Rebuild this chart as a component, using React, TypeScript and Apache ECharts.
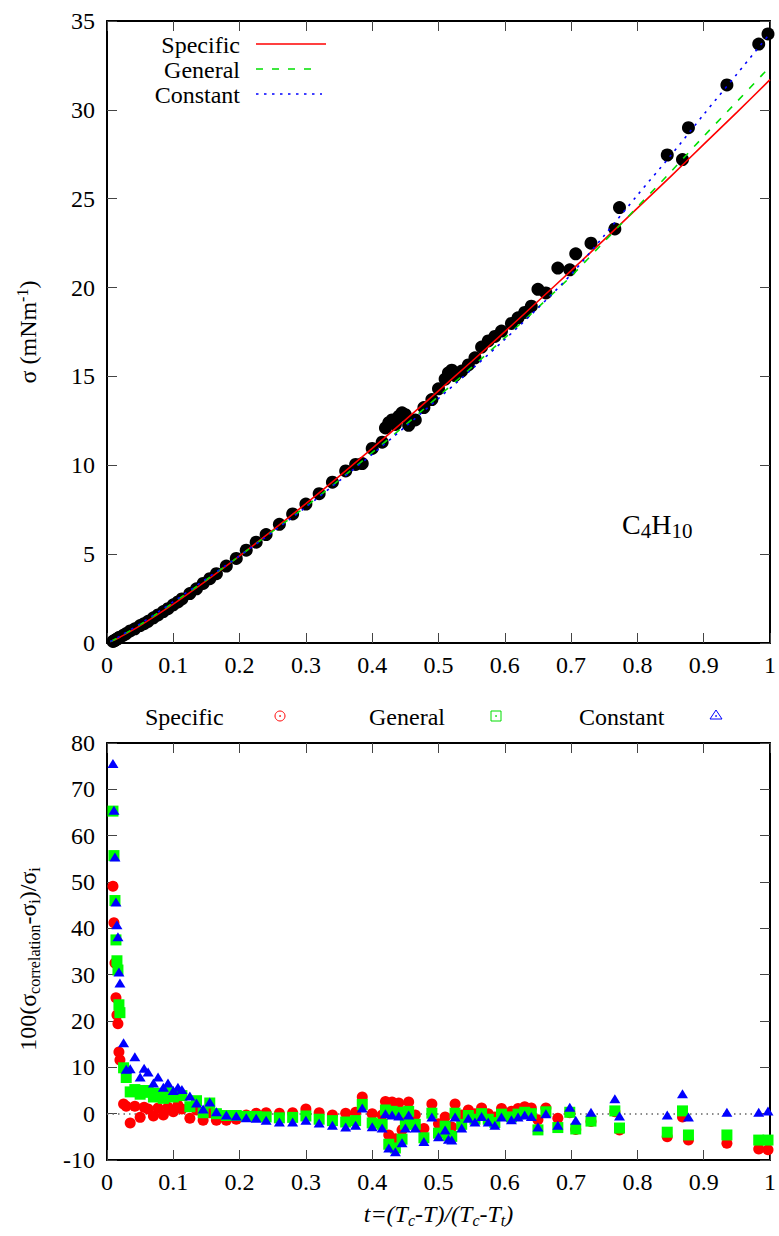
import React, { useEffect, useRef } from "react";
import * as echarts from "echarts";

const FONT = "Liberation Serif";

// Correlation curves
const CURVE_T = [0.005, 0.01, 0.02, 0.05, 0.1, 0.15, 0.2, 0.25, 0.3, 0.35, 0.4, 0.45, 0.5, 0.55, 0.6, 0.65, 0.7, 0.75, 0.8, 0.85, 0.9, 0.95, 1.0];
const CURVE_SPECIFIC = [0.068, 0.152, 0.339, 0.98, 2.19, 3.51, 4.9, 6.35, 7.84, 9.38, 10.95, 12.55, 14.19, 15.84, 17.52, 19.23, 20.95, 22.7, 24.47, 26.24, 28.06, 29.86, 31.7];
const CURVE_GENERAL = [0.076, 0.169, 0.37, 1.03, 2.27, 3.56, 4.9, 6.29, 7.68, 9.17, 10.71, 12.27, 13.88, 15.51, 17.17, 18.88, 20.64, 22.59, 24.54, 26.5, 28.51, 30.46, 32.43];
const CURVE_CONSTANT = [0.082, 0.179, 0.397, 1.08, 2.32, 3.62, 4.9, 6.25, 7.64, 9.12, 10.62, 12.17, 13.76, 15.4, 17.08, 18.85, 20.74, 22.93, 25.2, 27.42, 29.74, 32.01, 34.3];

// Experimental points: reduced temperature t and surface tension sigma (mN/m)
const DATA_T = [
  0.009, 0.0105, 0.012, 0.0135, 0.015, 0.0165, 0.018, 0.0195, 0.025, 0.029,
  0.035, 0.042, 0.05, 0.056, 0.062, 0.07, 0.077, 0.085, 0.092, 0.1,
  0.107, 0.113, 0.125, 0.135, 0.145, 0.155, 0.165, 0.18, 0.195, 0.21,
  0.225, 0.24, 0.26, 0.28, 0.3, 0.32, 0.34, 0.36, 0.375, 0.385,
  0.4, 0.415, 0.42, 0.425, 0.43, 0.435, 0.44, 0.445, 0.45, 0.455,
  0.465, 0.478, 0.49, 0.5, 0.51, 0.515, 0.52, 0.525, 0.535, 0.545,
  0.555, 0.565, 0.575, 0.585, 0.595, 0.61, 0.62, 0.63, 0.64, 0.65,
  0.662, 0.68, 0.698, 0.707, 0.73, 0.766, 0.773, 0.845, 0.868, 0.877,
  0.935, 0.983, 0.997,
];
const DATA_SIGMA = [
  0.09, 0.12, 0.15, 0.19, 0.22, 0.25, 0.3, 0.33, 0.44, 0.53,
  0.68, 0.8, 0.98, 1.09, 1.22, 1.42, 1.58, 1.77, 1.93, 2.15,
  2.31, 2.48, 2.78, 3.05, 3.35, 3.62, 3.9, 4.33, 4.76, 5.22,
  5.67, 6.1, 6.68, 7.26, 7.82, 8.4, 9.05, 9.68, 10.05, 10.1,
  10.95, 11.3, 12.1, 12.4, 12.55, 12.3, 12.75, 12.95, 12.85, 12.25,
  12.55, 13.25, 13.7, 14.3, 14.85, 15.2, 15.35, 15.05, 15.3, 15.65,
  16.05, 16.65, 17.0, 17.25, 17.55, 17.98, 18.3, 18.6, 18.95, 19.9,
  19.7, 21.1, 21.0, 21.9, 22.5, 23.3, 24.5, 27.46, 27.2, 29.0,
  31.4, 33.7, 34.27,
];

// Relative deviations 100(sigma_corr - sigma_i)/sigma_i
const DEV_SPECIFIC = [
  49.1, 41.2, 32.5, 25.0, 21.3, 19.4, 13.3, 11.6, 2.1, 1.6,
  -2.0, 1.6, -0.8, 1.4, 1.0, -0.5, 1.2, -0.3, 1.4, 0.4,
  1.8, 1.0, -1.0, 0.8, -1.4, 0.2, -1.4, -1.4, -1.2, -0.3,
  0.1, 0.2, 0.1, 0.2, 1.0, 0.2, -0.3, 0.1, 0.3, 3.6,
  0.0, -0.3, 2.6, -4.6, 2.5, -5.4, 2.3, -3.5, -0.3, 2.5,
  -0.3, -3.2, 2.1, -2.2, -0.7, -2.7, -2.9, 2.1, -0.3, 0.8,
  0.0, 1.2, 0.0, -0.7, 1.1, 0.5, 1.1, 1.5, 1.2, -1.3,
  1.2, -1.0, 0.2, -3.4, -1.7, 0.4, -3.5, -5.0, -0.7, -5.7,
  -6.4, -7.6, -7.8,
];
const DEV_GENERAL = [
  65.3, 55.7, 46.0, 37.5, 33.0, 31.0, 23.5, 21.8, 9.9, 7.8,
  4.7, 5.2, 4.2, 5.0, 4.6, 3.6, 4.4, 3.3, 4.6, 3.6,
  4.2, 3.9, 1.5, 2.8, 0.2, 2.3, 0.0, -0.4, -0.4, -0.6,
  -0.6, -0.7, -0.9, -0.8, -0.5, -1.2, -1.5, -1.8, -1.5, 2.0,
  -2.0, -2.3, 0.8, -6.6, 0.5, -7.4, 0.3, -5.5, -2.3, 0.5,
  -2.3, -5.2, 0.1, -4.2, -2.7, -4.7, -4.9, 0.1, -2.3, -0.4,
  -1.2, 0.0, -1.2, -1.9, -0.1, -0.7, -0.1, 0.3, 0.0, -3.5,
  0.4, -3.0, 0.3, -3.3, -1.6, 0.6, -3.1, -4.0, 0.6, -4.6,
  -4.6, -5.7, -5.7,
];
const DEV_CONSTANT = [
  75.6, 65.5, 55.4, 45.7, 40.8, 38.2, 30.6, 28.2, 15.3, 9.6,
  9.7, 12.3, 7.9, 9.8, 9.0, 6.6, 7.9, 5.7, 6.6, 5.0,
  5.7, 5.2, 3.8, 2.3, 1.0, 2.5, 0.4, -0.3, -0.5, -0.9,
  -1.0, -1.4, -1.8, -1.8, -1.4, -2.0, -2.5, -2.9, -2.5, 1.2,
  -2.8, -3.1, 0.0, -7.4, -0.3, -8.2, -0.5, -6.3, -3.1, -0.3,
  -3.1, -6.0, -0.7, -5.0, -3.5, -5.5, -5.7, -0.7, -3.1, -1.0,
  -1.8, -0.6, -1.8, -2.5, -0.7, -1.3, -0.7, -0.3, -0.6, -2.9,
  0.0, -2.5, 1.4, -1.4, 0.3, 3.2, -0.5, -0.3, 4.3, -0.7,
  0.3, 0.3, 0.6,
];

const SERIES_NAMES = ["Specific", "General", "Constant"];
const COLORS = { specific: "#ff0000", general: "#00e000", constant: "#0000ff" };

const pairs = (xs: number[], ys: number[]) => xs.map((x, i) => [x, ys[i]]);

export default function App() {
  const ref = useRef<HTMLDivElement>(null);

  useEffect(() => {
    if (!ref.current) return;
    const chart = echarts.init(ref.current, null, { renderer: "svg" });

    const axisLine = { show: true, onZero: false, lineStyle: { color: "#000", width: 2 } };
    const tick = { show: true, inside: true, length: 10, lineStyle: { color: "#444", width: 1 } };
    const numRich = { n: { fontFamily: FONT, fontSize: 24, color: "#000" } };
    const xLabel = {
      margin: 10,
      showMinLabel: true,
      showMaxLabel: true,
      formatter: (v: number) => `{n|${Number(v.toFixed(1))}}`,
      rich: numRich,
    };
    const yLabel = {
      margin: 12,
      showMinLabel: true,
      showMaxLabel: true,
      formatter: (v: number) => `{n|${Math.round(v)}}`,
      rich: numRich,
    };
    const rich = {
      a: { fontFamily: FONT, fontSize: 24, color: "#000" },
      i: { fontFamily: FONT, fontSize: 24, color: "#000", fontStyle: "italic" },
      sub: { fontFamily: FONT, fontSize: 16, color: "#000", padding: [12, 0, 0, 0] },
      isub: { fontFamily: FONT, fontSize: 16, color: "#000", fontStyle: "italic", padding: [12, 0, 0, 0] },
      sup: { fontFamily: FONT, fontSize: 16, color: "#000", padding: [0, 0, 12, 0] },
    };
    const gRich = {
      a: { fontFamily: FONT, fontSize: 24, fill: "#000" },
      sub: { fontFamily: FONT, fontSize: 16, fill: "#000", padding: [12, 0, 0, 0] },
    };

    const xBase = (grid: number) => ({
      gridIndex: grid,
      type: "value",
      min: 0,
      max: 1,
      interval: 0.1,
      axisLine,
      axisTick: tick,
      splitLine: { show: false },
    });

    const option: any = {
      animation: false,
      backgroundColor: "#fff",
      textStyle: { fontFamily: FONT },
      grid: [
        { left: 107, top: 21, width: 666, height: 622 },
        { left: 107, top: 743, width: 666, height: 417 },
      ],
      xAxis: [
        { ...xBase(0), position: "bottom", axisLabel: xLabel },
        { ...xBase(0), position: "top", axisLabel: { show: false } },
        {
          ...xBase(1),
          position: "bottom",
          axisLabel: xLabel,
          name: "{i|t=(T}{isub|c}{i|-T)/(T}{isub|c}{i|-T}{isub|t}{i|)}",
          nameLocation: "middle",
          nameGap: 40,
          nameTextStyle: { fontFamily: FONT, rich },
        },
        { ...xBase(1), position: "top", axisLabel: { show: false } },
      ],
      yAxis: [
        {
          gridIndex: 0,
          type: "value",
          min: 0,
          max: 35,
          interval: 5,
          position: "left",
          axisLine,
          axisTick: tick,
          splitLine: { show: false },
          axisLabel: yLabel,
          name: "{a|σ (mNm}{sup|-1}{a|)}",
          nameLocation: "middle",
          nameGap: 65,
          nameTextStyle: { fontFamily: FONT, rich },
        },
        {
          gridIndex: 0, type: "value", min: 0, max: 35, interval: 5, position: "right",
          axisLine, axisTick: tick, splitLine: { show: false }, axisLabel: { show: false },
        },
        {
          gridIndex: 1,
          type: "value",
          min: -10,
          max: 80,
          interval: 10,
          position: "left",
          axisLine,
          axisTick: tick,
          splitLine: { show: false },
          axisLabel: yLabel,
        },
        {
          gridIndex: 1, type: "value", min: -10, max: 80, interval: 10, position: "right",
          axisLine, axisTick: tick, splitLine: { show: false }, axisLabel: { show: false },
        },
      ],
      series: [
        {
          name: "Data",
          type: "scatter",
          xAxisIndex: 0,
          yAxisIndex: 0,
          symbol: "circle",
          symbolSize: 13,
          itemStyle: { color: "#000", opacity: 1 },
          data: pairs(DATA_T, DATA_SIGMA),
          z: 2,
        },
        {
          name: SERIES_NAMES[0],
          type: "line",
          xAxisIndex: 0,
          yAxisIndex: 0,
          showSymbol: false,
          smooth: 0.3,
          lineStyle: { color: COLORS.specific, width: 1.6 },
          data: pairs(CURVE_T, CURVE_SPECIFIC),
          z: 3,
        },
        {
          name: SERIES_NAMES[1],
          type: "line",
          xAxisIndex: 0,
          yAxisIndex: 0,
          showSymbol: false,
          smooth: 0.3,
          lineStyle: { color: COLORS.general, width: 1.6, type: [7, 9] },
          data: pairs(CURVE_T, CURVE_GENERAL),
          z: 4,
        },
        {
          name: SERIES_NAMES[2],
          type: "line",
          xAxisIndex: 0,
          yAxisIndex: 0,
          showSymbol: false,
          smooth: 0.3,
          lineStyle: { color: COLORS.constant, width: 1.6, type: [2.5, 5.5] },
          data: pairs(CURVE_T, CURVE_CONSTANT),
          z: 5,
        },
        {
          name: SERIES_NAMES[0] + " dev",
          type: "scatter",
          xAxisIndex: 2,
          yAxisIndex: 2,
          symbol: "circle",
          symbolSize: 11,
          itemStyle: { color: COLORS.specific, opacity: 1 },
          data: pairs(DATA_T, DEV_SPECIFIC),
          z: 3,
          markLine: {
            silent: true,
            symbol: "none",
            label: { show: false },
            lineStyle: { color: "#666", width: 1.5, type: [1.5, 4] },
            data: [{ yAxis: 0 }],
            z: 1,
          },
        },
        {
          name: SERIES_NAMES[1] + " dev",
          type: "scatter",
          xAxisIndex: 2,
          yAxisIndex: 2,
          symbol: "rect",
          symbolSize: 11,
          itemStyle: { color: "#00ff00", opacity: 1 },
          data: pairs(DATA_T, DEV_GENERAL),
          z: 4,
        },
        {
          name: SERIES_NAMES[2] + " dev",
          type: "scatter",
          xAxisIndex: 2,
          yAxisIndex: 2,
          symbol: "triangle",
          symbolSize: [11, 9],
          itemStyle: { color: COLORS.constant, opacity: 1 },
          data: pairs(DATA_T, DEV_CONSTANT),
          z: 5,
        },
      ],
      graphic: [
        // Bottom y-axis title
        {
          type: "text",
          x: 28,
          y: 959,
          rotation: Math.PI / 2,
          style: {
            text: "{a|100(σ}{sub|correlation}{a|-σ}{sub|i}{a|)/σ}{sub|i}",
            rich: gRich,
            textAlign: "center",
            textVerticalAlign: "middle",
            fill: "#000",
          },
        },
        // Top legend
        { type: "text", x: 240, y: 45, style: { text: SERIES_NAMES[0], font: `24px ${FONT}`, textAlign: "right", textVerticalAlign: "middle", fill: "#000" } },
        { type: "text", x: 240, y: 70, style: { text: SERIES_NAMES[1], font: `24px ${FONT}`, textAlign: "right", textVerticalAlign: "middle", fill: "#000" } },
        { type: "text", x: 240, y: 95, style: { text: SERIES_NAMES[2], font: `24px ${FONT}`, textAlign: "right", textVerticalAlign: "middle", fill: "#000" } },
        { type: "line", shape: { x1: 256, y1: 44, x2: 326, y2: 44 }, style: { stroke: COLORS.specific, lineWidth: 1.6 } },
        { type: "line", shape: { x1: 256, y1: 69, x2: 318, y2: 69 }, style: { stroke: COLORS.general, lineWidth: 1.6, lineDash: [7, 9] } },
        { type: "line", shape: { x1: 256, y1: 94, x2: 322, y2: 94 }, style: { stroke: COLORS.constant, lineWidth: 1.6, lineDash: [2.5, 5.5] } },
        // Compound label
        {
          type: "text",
          x: 622,
          y: 507,
          style: {
            text: "{a|C}{s|4}{a|H}{s|10}",
            rich: {
              a: { fontFamily: FONT, fontSize: 28, fill: "#000" },
              s: { fontFamily: FONT, fontSize: 21, fill: "#000", padding: [13, 0, 0, 0] },
            },
            fill: "#000",
          },
        },
        // Bottom legend
        { type: "text", x: 145, y: 717, style: { text: SERIES_NAMES[0], font: `24px ${FONT}`, textAlign: "left", textVerticalAlign: "middle", fill: "#000" } },
        { type: "text", x: 369, y: 717, style: { text: SERIES_NAMES[1], font: `24px ${FONT}`, textAlign: "left", textVerticalAlign: "middle", fill: "#000" } },
        { type: "text", x: 579, y: 717, style: { text: SERIES_NAMES[2], font: `24px ${FONT}`, textAlign: "left", textVerticalAlign: "middle", fill: "#000" } },
        { type: "circle", shape: { cx: 280, cy: 716, r: 5 }, style: { stroke: COLORS.specific, fill: "none", lineWidth: 1 } },
        { type: "circle", shape: { cx: 280, cy: 716, r: 0.8 }, style: { fill: COLORS.specific } },
        { type: "rect", shape: { x: 491, y: 711, width: 10, height: 10 }, style: { stroke: "#00dd00", fill: "none", lineWidth: 1 } },
        { type: "circle", shape: { cx: 496, cy: 716, r: 0.8 }, style: { fill: "#00dd00" } },
        { type: "polygon", shape: { points: [[716, 710], [722, 719], [710, 719]] }, style: { stroke: COLORS.constant, fill: "none", lineWidth: 1 } },
        { type: "circle", shape: { cx: 716, cy: 716, r: 0.8 }, style: { fill: COLORS.constant } },
      ],
    };

    chart.setOption(option);
    return () => chart.dispose();
  }, []);

  return (
    <div
      ref={ref}
      style={{ position: "fixed", left: 0, top: 0, width: 779, height: 1236, background: "#fff" }}
    />
  );
}
